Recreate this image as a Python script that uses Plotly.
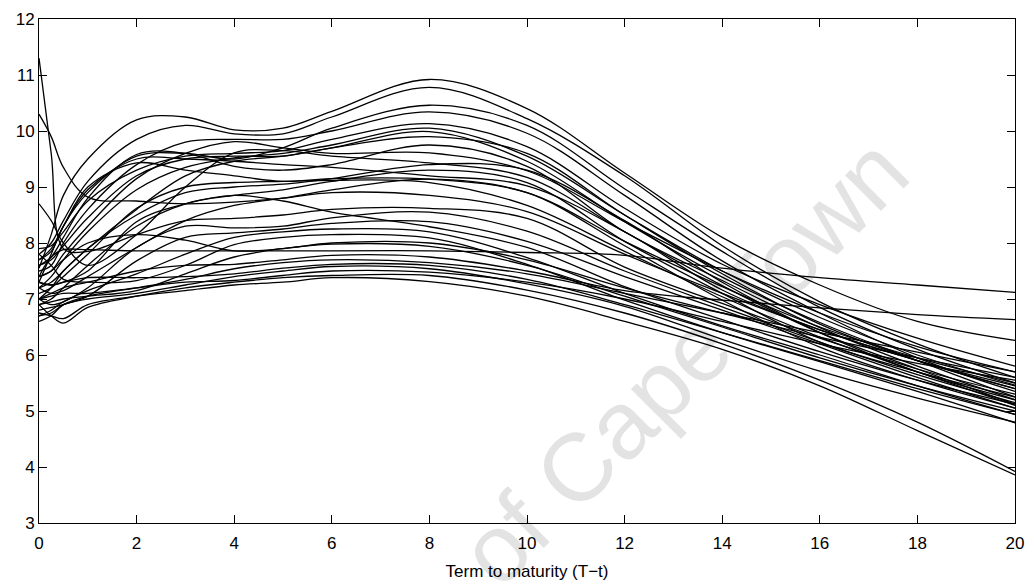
import plotly.graph_objects as go

# Term to maturity knots (years)
term = [0, 0.25, 0.5, 1, 2, 3, 4, 5, 6, 8, 10, 12, 14, 16, 18, 20]

# Yield curves (values at the knots above)
curve_01 = [7.55, 8.15, 8.85, 9.5, 10.2, 10.25, 10.02, 10.05, 10.35, 10.92, 10.4, 9.25, 8.1, 7.25, 6.6, 6.26]
curve_02 = [7.8, 8.0, 8.4, 9.1, 9.85, 10.1, 9.95, 9.95, 10.25, 10.78, 10.22, 9.2, 7.95, 6.95, 6.2, 5.6]
curve_03 = [7.3, 7.8, 8.3, 8.9, 9.55, 9.6, 9.5, 9.7, 10.05, 10.46, 10.1, 8.97, 7.85, 6.85, 6.1, 5.5]
curve_04 = [7.5, 7.6, 8.0, 8.6, 9.4, 9.8, 9.85, 9.85, 10.0, 10.34, 9.96, 8.85, 7.68, 6.75, 5.95, 5.35]
curve_05 = [7.9, 7.95, 8.2, 8.75, 9.3, 9.55, 9.6, 9.65, 9.85, 10.13, 9.72, 8.62, 7.62, 6.9, 6.3, 5.8]
curve_06 = [7.2, 7.4, 7.7, 8.2, 8.95, 9.35, 9.52, 9.6, 9.75, 10.05, 9.55, 8.5, 7.5, 6.67, 6.0, 5.46]
curve_07 = [7.0, 7.2, 7.5, 7.9, 8.6, 9.2, 9.46, 9.55, 9.7, 9.99, 9.46, 8.38, 7.39, 6.58, 5.9, 5.25]
curve_08 = [7.6, 7.75, 8.1, 8.8, 9.58, 9.6, 9.37, 9.3, 9.4, 9.75, 9.37, 8.2, 7.33, 6.49, 5.8, 5.2]
curve_09 = [7.4, 7.5, 7.8, 8.3, 9.15, 9.6, 9.81, 9.7, 9.6, 9.61, 9.29, 8.38, 7.5, 6.75, 6.15, 5.7]
curve_10 = [8.7, 8.4, 8.0, 7.6, 8.15, 9.0, 9.61, 9.65, 9.55, 9.43, 9.17, 8.2, 7.24, 6.4, 5.75, 5.12]
curve_11 = [7.7, 7.9, 8.3, 9.0, 9.43, 9.3, 9.2, 9.1, 9.15, 9.14, 8.9, 8.03, 7.22, 6.5, 5.95, 5.5]
curve_12 = [7.1, 7.2, 7.4, 7.8, 8.62, 9.0, 9.08, 9.1, 9.12, 9.08, 8.67, 7.85, 7.04, 6.32, 5.7, 5.1]
curve_13 = [10.3, 9.9, 9.35, 8.82, 8.75, 8.7, 8.73, 8.8, 8.9, 8.85, 8.56, 7.8, 7.1, 6.45, 5.9, 5.45]
curve_14 = [11.3, 9.6, 7.9, 7.85, 8.15, 8.4, 8.44, 8.5, 8.6, 8.62, 8.44, 7.57, 6.92, 6.3, 5.75, 5.3]
curve_15 = [7.0, 6.9, 6.95, 7.2, 7.92, 8.3, 8.27, 8.3, 8.45, 8.55, 8.21, 7.5, 6.86, 6.23, 5.65, 5.15]
curve_16 = [6.8, 6.85, 6.9, 7.05, 7.68, 8.1, 8.18, 8.25, 8.35, 8.38, 8.03, 7.4, 6.8, 6.2, 5.6, 5.05]
curve_17 = [7.3, 7.25, 7.3, 7.5, 8.38, 8.7, 8.85, 8.75, 8.55, 8.29, 7.92, 7.22, 6.63, 6.06, 5.55, 5.12]
curve_18 = [6.7, 6.8, 6.95, 7.15, 7.45, 7.8, 8.1, 8.2, 8.25, 8.2, 7.74, 7.1, 6.52, 6.0, 5.45, 4.94]
curve_19 = [7.8, 7.6, 7.35, 7.3, 7.33, 7.6, 7.97, 8.1, 8.15, 8.09, 7.62, 6.98, 6.4, 5.88, 5.35, 4.79]
curve_20 = [7.4, 7.5, 7.7, 8.0, 8.15, 8.05, 7.86, 7.9, 8.0, 8.0, 7.7, 7.2, 6.75, 6.32, 5.95, 5.6]
curve_21 = [6.9, 6.95, 7.0, 7.05, 7.15, 7.45, 7.75, 7.9, 7.98, 7.94, 7.6, 7.05, 6.5, 5.95, 5.45, 5.0]
curve_22 = [7.4, 7.75, 7.88, 7.88, 7.86, 7.86, 7.86, 7.86, 7.86, 7.86, 7.83, 7.78, 7.55, 7.38, 7.25, 7.12]
curve_23 = [7.0, 7.1, 7.2, 7.3, 7.5, 7.6, 7.62, 7.7, 7.78, 7.75, 7.5, 7.15, 6.98, 6.84, 6.72, 6.63]
curve_24 = [6.6, 6.7, 6.9, 7.05, 7.2, 7.35, 7.54, 7.65, 7.7, 7.65, 7.45, 7.1, 6.75, 6.4, 6.05, 5.7]
curve_25 = [7.3, 7.25, 7.3, 7.38, 7.38, 7.4, 7.45, 7.55, 7.62, 7.6, 7.35, 6.9, 6.4, 5.9, 5.4, 4.94]
curve_26 = [6.7, 6.75, 6.9, 7.0, 7.1, 7.25, 7.4, 7.5, 7.58, 7.54, 7.27, 6.87, 6.28, 5.71, 5.23, 4.8]
curve_27 = [7.0, 7.05, 7.1, 7.1, 7.2, 7.3, 7.33, 7.42, 7.5, 7.48, 7.3, 7.0, 6.6, 6.2, 5.85, 5.55]
curve_28 = [6.9, 6.7, 6.57, 6.85, 7.05, 7.2, 7.3, 7.38, 7.42, 7.42, 7.16, 6.75, 6.2, 5.55, 4.8, 3.92]
curve_29 = [6.75, 6.7, 6.65, 6.9, 7.05, 7.15, 7.25, 7.3, 7.38, 7.31, 7.05, 6.6, 6.1, 5.45, 4.65, 3.86]
curve_30 = [7.7, 7.85, 8.3, 8.95, 9.5, 9.5, 9.46, 9.4, 9.35, 9.2, 9.02, 8.2, 7.16, 6.45, 5.9, 5.4]
curve_31 = [6.9, 7.0, 7.2, 7.6, 8.3, 8.7, 8.85, 8.95, 9.1, 9.3, 9.08, 8.03, 7.1, 6.23, 5.7, 5.25]
curve_32 = [7.2, 7.1, 7.15, 7.4, 7.92, 8.4, 8.67, 8.8, 8.95, 9.14, 8.9, 7.95, 6.98, 6.14, 5.55, 5.05]
curve_33 = [7.6, 7.7, 7.95, 8.45, 9.2, 9.5, 9.55, 9.55, 9.7, 9.9, 9.6, 8.5, 7.45, 6.55, 5.9, 5.4]
curve_34 = [7.2, 7.3, 7.5, 7.9, 8.5, 8.9, 9.0, 9.05, 9.15, 9.4, 9.3, 8.4, 7.3, 6.4, 5.7, 5.2]

curves = [curve_01, curve_02, curve_03, curve_04, curve_05, curve_06, curve_07,
          curve_08, curve_09, curve_10, curve_11, curve_12, curve_13, curve_14,
          curve_15, curve_16, curve_17, curve_18, curve_19, curve_20, curve_21,
          curve_22, curve_23, curve_24, curve_25, curve_26, curve_27, curve_28,
          curve_29, curve_30, curve_31, curve_32, curve_33, curve_34]

x_ticks = [0, 2, 4, 6, 8, 10, 12, 14, 16, 18, 20]
y_ticks = [3, 4, 5, 6, 7, 8, 9, 10, 11, 12]

FONT = "Liberation Sans, Arial, sans-serif"

fig = go.Figure()
for c in curves:
    fig.add_trace(go.Scatter(
        x=term, y=c, mode="lines",
        line=dict(color="black", width=1.3, shape="spline", smoothing=1.0),
        showlegend=False, hoverinfo="skip"))

axis_common = dict(
    showline=True, linecolor="black", linewidth=1, mirror="allticks",
    ticks="inside", ticklen=8, tickcolor="black", tickwidth=1,
    showgrid=False, zeroline=False,
    tickfont=dict(family=FONT, size=17, color="black"),
)

fig.update_xaxes(range=[0, 20], tickvals=x_ticks, ticklabelstandoff=5,
                 title=dict(text="Term to maturity (T\u2212t)",
                            font=dict(family=FONT, size=17, color="black"),
                            standoff=12),
                 **axis_common)
fig.update_yaxes(range=[3, 12], tickvals=y_ticks, **axis_common)

# faint diagonal watermark visible in the reference
fig.add_annotation(
    text="of Cape Town", xref="paper", yref="paper",
    x=0.66, y=0.32, xanchor="center", yanchor="middle",
    showarrow=False, textangle=-45,
    font=dict(family=FONT, size=96, color="rgba(0,0,0,0.11)"))

fig.update_layout(
    width=1034, height=587,
    margin=dict(l=39, r=17, t=10, b=63),
    paper_bgcolor="white", plot_bgcolor="white",
)

fig.write_html("out.html")
